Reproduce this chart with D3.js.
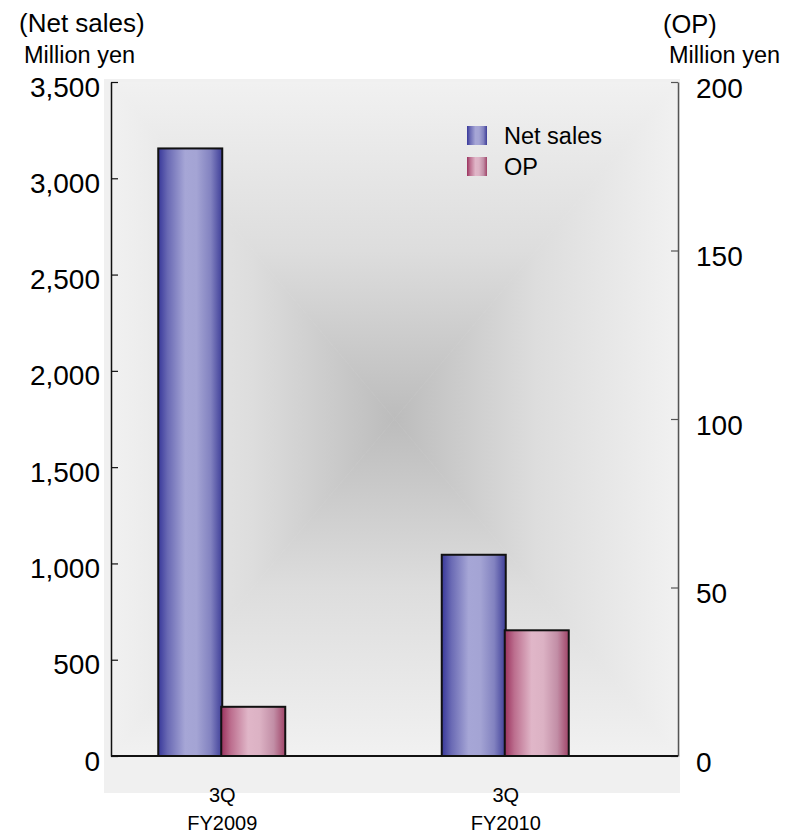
<!DOCTYPE html>
<html>
<head>
<meta charset="utf-8">
<script src="https://cdn.jsdelivr.net/npm/d3@7"></script>
<style>
  body { margin: 0; background: #fff; }
  svg text { font-family: Arial, "Liberation Sans", sans-serif; fill: #000; }
</style>
</head>
<body>
<svg id="chart" width="796" height="834"></svg>
<script>
// Quarterly results: net sales (left axis) and operating profit (right axis), million yen
const quarters = ["3Q", "3Q"];
const fiscalYears = ["FY2009", "FY2010"];
const netSales = [3155, 1045];
const operatingProfit = [14.6, 37.3];
const salesTicks = [0, 500, 1000, 1500, 2000, 2500, 3000, 3500];
const opTicks = [0, 50, 100, 150, 200];
const seriesNames = ["Net sales", "OP"];

const svg = d3.select("#chart");
const defs = svg.append("defs");

// plot frame
const plotLeft = 111, plotRight = 678, plotTop = 82, plotBottom = 756;
const cx = (plotLeft + plotRight) / 2, cy = (plotTop + plotBottom) / 2;

// outer light panel
svg.append("rect").attr("x", 104).attr("y", 79).attr("width", 576).attr("height", 714).attr("fill", "#f0f0f0");

// rectangular centre-weighted shading built from four triangles
function shadeGrad(id, x1, y1, x2, y2) {
  const g = defs.append("linearGradient").attr("id", id)
    .attr("gradientUnits", "userSpaceOnUse")
    .attr("x1", x1).attr("y1", y1).attr("x2", x2).attr("y2", y2);
  g.append("stop").attr("offset", "0").attr("stop-color", "#f1f1f1");
  g.append("stop").attr("offset", "0.5").attr("stop-color", "#dddddd");
  g.append("stop").attr("offset", "1").attr("stop-color", "#bcbcbc");
}
shadeGrad("shTop", 0, plotTop, 0, cy);
shadeGrad("shBot", 0, plotBottom, 0, cy);
shadeGrad("shLeft", plotLeft, 0, cx, 0);
shadeGrad("shRight", plotRight, 0, cx, 0);
const tris = [
  ["shTop", [[plotLeft, plotTop], [plotRight, plotTop], [cx, cy]]],
  ["shBot", [[plotLeft, plotBottom], [plotRight, plotBottom], [cx, cy]]],
  ["shLeft", [[plotLeft, plotTop], [plotLeft, plotBottom], [cx, cy]]],
  ["shRight", [[plotRight, plotTop], [plotRight, plotBottom], [cx, cy]]]
];
svg.append("g").selectAll("polygon").data(tris).join("polygon")
  .attr("points", d => d[1].map(p => p.join(",")).join(" "))
  .attr("fill", d => `url(#${d[0]})`)
  .attr("stroke", d => `url(#${d[0]})`).attr("stroke-width", 0.6);

// bar gradients (horizontal cylinder look)
function barGrad(id, stops) {
  const g = defs.append("linearGradient").attr("id", id)
    .attr("x1", "0").attr("y1", "0").attr("x2", "1").attr("y2", "0");
  stops.forEach(s => g.append("stop").attr("offset", s[0]).attr("stop-color", s[1]));
}
barGrad("gSales", [[0, "#38389a"], [0.15, "#6a6ab4"], [0.42, "#a6a6d6"], [0.6, "#a4a4d4"], [0.82, "#8282c0"], [1, "#3e3e98"]]);
barGrad("gOP", [[0, "#9a325e"], [0.15, "#bc6e8e"], [0.42, "#e0b6c8"], [0.6, "#dcb2c4"], [0.82, "#c28ea6"], [1, "#a04468"]]);
const fills = ["url(#gSales)", "url(#gOP)"];

// scales
const ySales = d3.scaleLinear().domain([0, 3500]).range([plotBottom, plotTop]);
const yOP = d3.scaleLinear().domain([0, 200]).range([plotBottom, plotTop]);
const groupShift = -30.5;
const x = d3.scaleBand().domain(fiscalYears).range([plotLeft, plotRight]);
const xSub = d3.scaleBand().domain(seriesNames).range([-64, 64]);
const groupCenter = fy => x(fy) + x.bandwidth() / 2 + groupShift;

// bars
const barData = [];
fiscalYears.forEach((fy, i) => {
  barData.push({ fy, s: 0, v: netSales[i], y: ySales });
  barData.push({ fy, s: 1, v: operatingProfit[i], y: yOP });
});
svg.append("g").selectAll("rect").data(barData).join("rect")
  .attr("x", d => groupCenter(d.fy) + xSub(seriesNames[d.s]) - (d.s === 1 ? 1 : 0))
  .attr("width", xSub.bandwidth())
  .attr("y", d => d.y(d.v))
  .attr("height", d => plotBottom - d.y(d.v))
  .attr("fill", d => fills[d.s])
  .attr("stroke", "#111").attr("stroke-width", 2);

// axes
const fmt = d3.format(",");
const axL = svg.append("g").attr("transform", `translate(${plotLeft},0)`)
  .call(d3.axisLeft(ySales).tickValues(salesTicks).tickFormat(fmt).tickSize(-7).tickSizeOuter(0).tickPadding(11));
axL.select(".domain").attr("stroke", "#111").attr("stroke-width", 1.5);
axL.selectAll(".tick line").attr("stroke", "#111").attr("stroke-width", 1.2);
axL.selectAll(".tick text").attr("font-size", 28).attr("dy", "0.5em")
  .style("font-family", "Arial, 'Liberation Sans', sans-serif");

const axR = svg.append("g").attr("transform", `translate(${plotRight},0)`)
  .call(d3.axisRight(yOP).tickValues(opTicks).tickSize(-7).tickSizeOuter(0).tickPadding(18));
axR.select(".domain").attr("stroke", "#555").attr("stroke-width", 1.5);
axR.selectAll(".tick line").attr("stroke", "#555").attr("stroke-width", 1.2);
axR.selectAll(".tick text").attr("font-size", 28).attr("dy", "0.55em")
  .style("font-family", "Arial, 'Liberation Sans', sans-serif");

// baseline
svg.append("line").attr("x1", plotLeft).attr("x2", plotRight).attr("y1", plotBottom).attr("y2", plotBottom)
  .attr("stroke", "#111").attr("stroke-width", 2);

// category labels
const cat = svg.append("g").selectAll("g").data(fiscalYears).join("g")
  .attr("transform", d => `translate(${groupCenter(d)},0)`);
cat.append("text").attr("y", 802).attr("text-anchor", "middle").attr("font-size", 20)
  .text((d, i) => quarters[i]);
cat.append("text").attr("y", 830).attr("text-anchor", "middle").attr("font-size", 20)
  .text(d => d);

// axis titles
svg.append("text").attr("x", 19).attr("y", 32).attr("font-size", 26).text("(Net sales)");
svg.append("text").attr("x", 24).attr("y", 63).attr("font-size", 23.5).text("Million yen");
svg.append("text").attr("x", 663).attr("y", 33).attr("font-size", 25.5).text("(OP)");
svg.append("text").attr("x", 669).attr("y", 63).attr("font-size", 23.5).text("Million yen");

// legend
const leg = svg.append("g").selectAll("g").data(seriesNames).join("g")
  .attr("transform", (d, i) => `translate(467,${126 + i * 31})`);
leg.append("rect").attr("width", 20).attr("height", 19).attr("fill", (d, i) => fills[i]);
leg.append("text").attr("x", 37).attr("y", 18).attr("font-size", 23.5).text(d => d);
</script>
</body>
</html>
